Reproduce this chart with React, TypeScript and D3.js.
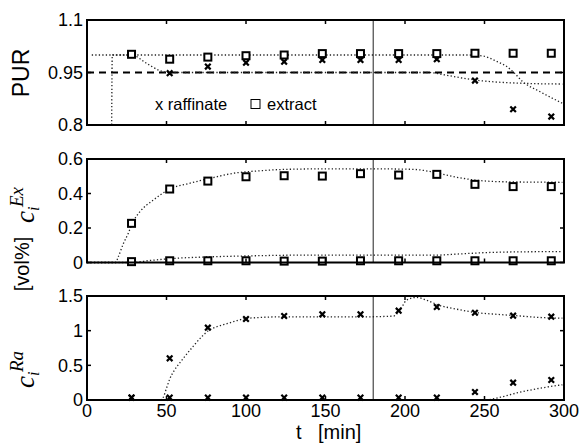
import React from "react";
import * as d3 from "d3";

// sample times (min)
const sampleT = [28, 52, 76, 100, 124, 148, 172, 196, 220, 244, 268, 292];

// PUR panel
const purExtract = [1.002, 0.988, 0.994, 0.998, 1.0, 1.004, 1.004, 1.004, 1.004, 1.005, 1.005, 1.005];
const purRaffinateT = [52, 76, 100, 124, 148, 172, 196, 220, 244, 268, 292];
const purRaffinate = [0.948, 0.967, 0.978, 0.981, 0.986, 0.986, 0.986, 0.988, 0.927, 0.845, 0.824];
const purExtractModelT = [3, 100, 200, 240, 249, 258, 264, 268, 274, 285, 299];
const purExtractModel = [1.0, 1.0, 1.0, 1.0, 0.997, 0.981, 0.967, 0.952, 0.924, 0.895, 0.862];
const purRaffModelT = [15.5, 15.9, 28, 37.5, 45, 52, 70, 150, 215, 225, 235, 245, 260, 275, 299];
const purRaffModel = [0.79, 1.0, 1.0, 0.976, 0.957, 0.95, 0.95, 0.95, 0.95, 0.943, 0.935, 0.928, 0.922, 0.919, 0.917];
const purSpec = 0.95;

// c^Ex panel
const exUpper = [0.227, 0.426, 0.472, 0.497, 0.503, 0.501, 0.515, 0.507, 0.511, 0.453, 0.44, 0.44];
const exLower = [0.005, 0.01, 0.01, 0.01, 0.008, 0.008, 0.01, 0.01, 0.01, 0.01, 0.01, 0.01];
const exUpperModelT = [0, 18, 19.7, 22.9, 26, 28.5, 33.3, 37.5, 41.7, 45.9, 53, 62.7, 71, 81.6, 92, 109, 125.6, 150, 180, 205, 213, 221, 232, 244, 255, 270, 299];
const exUpperModel = [0, 0, 0.034, 0.11, 0.17, 0.227, 0.295, 0.333, 0.362, 0.391, 0.43, 0.455, 0.474, 0.497, 0.517, 0.532, 0.54, 0.543, 0.543, 0.54, 0.532, 0.517, 0.495, 0.478, 0.47, 0.467, 0.465];
const exLowerModelT = [0, 28, 40, 55, 75, 100, 140, 220, 235, 250, 275, 299];
const exLowerModel = [0, 0, 0.012, 0.024, 0.032, 0.038, 0.043, 0.043, 0.05, 0.057, 0.062, 0.063];

// c^Ra panel
const raUpper = [0.034, 0.601, 1.043, 1.168, 1.212, 1.236, 1.236, 1.288, 1.341, 1.259, 1.216, 1.202];
const raLower = [0.034, 0.034, 0.034, 0.034, 0.034, 0.034, 0.034, 0.034, 0.034, 0.115, 0.25, 0.288];
const raUpperModelT = [0, 46, 48, 50, 52, 55, 58.5, 63, 67, 72, 77, 82, 88, 95, 101.5, 125, 150, 175, 192.7, 196.9, 201, 207.4, 213.6, 221, 232.5, 245, 257.7, 270, 285, 299];
const raUpperModel = [0, 0, 0.04, 0.17, 0.3, 0.43, 0.54, 0.67, 0.78, 0.91, 1.01, 1.06, 1.1, 1.15, 1.18, 1.2, 1.2, 1.2, 1.21, 1.298, 1.44, 1.48, 1.44, 1.37, 1.31, 1.26, 1.236, 1.216, 1.19, 1.18];
const raLowerModelT = [0, 250, 260, 270, 285, 299];
const raLowerModel = [0, 0, 0.04, 0.1, 0.17, 0.22];

const switchT = 180;
const xTicks = [0, 50, 100, 150, 200, 250, 300];
const purTicks = [0.8, 0.95, 1.1];
const purTickLabels = ["0.8", "0.95", "1.1"];
const exTicks = [0, 0.2, 0.4, 0.6];
const exTickLabels = ["0", "0.2", "0.4", "0.6"];
const raTicks = [0, 0.5, 1, 1.5];
const raTickLabels = ["0", "0.5", "1", "1.5"];

const FONT = "'Liberation Sans', Arial, Helvetica, sans-serif";
const SERIF = "'Liberation Serif', 'DejaVu Serif', serif";

const X0 = 87;
const X1 = 564;
const x = d3.scaleLinear().domain([0, 300]).range([X0, X1]);

function Cross({ cx, cy }: { cx: number; cy: number }) {
  const s = 2.8;
  return (
    <path
      d={`M${cx - s},${cy - s}L${cx + s},${cy + s}M${cx - s},${cy + s}L${cx + s},${cy - s}`}
      stroke="#000"
      strokeWidth={2.2}
    />
  );
}

function Square({ cx, cy }: { cx: number; cy: number }) {
  return <rect x={cx - 3.5} y={cy - 3.5} width={7} height={7} fill="#fff" stroke="#000" strokeWidth={2} />;
}

function Panel({
  y,
  ticks,
  tickLabels,
  showXLabels,
  children,
}: {
  y: d3.ScaleLinear<number, number>;
  ticks: number[];
  tickLabels: string[];
  showXLabels: boolean;
  children?: React.ReactNode;
}) {
  const [yb, yt] = y.range();
  const tl = 4;
  return (
    <g>
      <line x1={x(switchT)} x2={x(switchT)} y1={yt} y2={yb} stroke="#222" strokeWidth={1} />
      {children}
      {xTicks.map((t) => (
        <g key={"xt" + t}>
          <line x1={x(t)} x2={x(t)} y1={yb} y2={yb - tl} stroke="#000" strokeWidth={1.5} />
          <line x1={x(t)} x2={x(t)} y1={yt} y2={yt + tl} stroke="#000" strokeWidth={1.5} />
          {showXLabels && (
            <text x={x(t)} y={yb + 17} textAnchor="middle" fontFamily={FONT} fontSize={18}>
              {t}
            </text>
          )}
        </g>
      ))}
      {ticks.map((v, i) => (
        <g key={"yt" + v}>
          <line x1={X0} x2={X0 + tl} y1={y(v)} y2={y(v)} stroke="#000" strokeWidth={1.5} />
          <line x1={X1} x2={X1 - tl} y1={y(v)} y2={y(v)} stroke="#000" strokeWidth={1.5} />
          <text x={X0 - 4} y={y(v)} dy="0.36em" textAnchor="end" fontFamily={FONT} fontSize={18}>
            {tickLabels[i]}
          </text>
        </g>
      ))}
      <rect x={X0} y={yt} width={X1 - X0} height={yb - yt} fill="none" stroke="#000" strokeWidth={2} />
    </g>
  );
}

function dotted(ts: number[], vs: number[], y: d3.ScaleLinear<number, number>) {
  const line = d3
    .line<number>()
    .x((_, i) => x(ts[i]))
    .y((v) => y(v))
    .curve(d3.curveMonotoneX);
  return (
    <path d={line(vs) || ""} fill="none" stroke="#222" strokeWidth={1.3} strokeDasharray="1.3,2.2" />
  );
}

export default function App() {
  const yPur = d3.scaleLinear().domain([0.8, 1.1]).range([125, 20]);
  const yEx = d3.scaleLinear().domain([0, 0.6]).range([262.5, 159]);
  const yRa = d3.scaleLinear().domain([0, 1.5]).range([400, 296]);

  return (
    <svg
      width={582}
      height={448}
      style={{ position: "absolute", left: 0, top: 0, background: "#fff" }}
    >
      <rect x={0} y={0} width={582} height={448} fill="#fff" />
      <defs>
        <clipPath id="clipPur">
          <rect x={X0} y={20} width={X1 - X0} height={105} />
        </clipPath>
      </defs>

      {/* PUR panel */}
      <Panel y={yPur} ticks={purTicks} tickLabels={purTickLabels} showXLabels={false}>
        <line
          x1={X0}
          x2={X1}
          y1={yPur(purSpec)}
          y2={yPur(purSpec)}
          stroke="#000"
          strokeWidth={2}
          strokeDasharray="7,5"
        />
        <g clipPath="url(#clipPur)">
          {dotted(purExtractModelT, purExtractModel, yPur)}
          {dotted(purRaffModelT, purRaffModel, yPur)}
        </g>
        {purRaffinate.map((v, i) => (
          <Cross key={"pr" + i} cx={x(purRaffinateT[i])} cy={yPur(v)} />
        ))}
        {purExtract.map((v, i) => (
          <Square key={"pe" + i} cx={x(sampleT[i])} cy={yPur(v)} />
        ))}
        <text x={155} y={110} fontFamily={FONT} fontSize={16.5}>
          x raffinate
        </text>
        <rect x={251} y={99.5} width={9} height={9} fill="none" stroke="#000" strokeWidth={1} />
        <text x={267} y={110} fontFamily={FONT} fontSize={16.5}>
          extract
        </text>
      </Panel>

      {/* c^Ex panel */}
      <Panel y={yEx} ticks={exTicks} tickLabels={exTickLabels} showXLabels={false}>
        {dotted(exUpperModelT, exUpperModel, yEx)}
        {dotted(exLowerModelT, exLowerModel, yEx)}
        {exUpper.map((v, i) => (
          <Square key={"eu" + i} cx={x(sampleT[i])} cy={yEx(v)} />
        ))}
        {exLower.map((v, i) => (
          <Square key={"el" + i} cx={x(sampleT[i])} cy={yEx(v)} />
        ))}
      </Panel>

      {/* c^Ra panel */}
      <Panel y={yRa} ticks={raTicks} tickLabels={raTickLabels} showXLabels={true}>
        {dotted(raUpperModelT, raUpperModel, yRa)}
        {dotted(raLowerModelT, raLowerModel, yRa)}
        {raUpper.map((v, i) => (
          <Cross key={"ru" + i} cx={x(sampleT[i])} cy={yRa(v)} />
        ))}
        {raLower.map((v, i) => (
          <Cross key={"rl" + i} cx={x(sampleT[i])} cy={yRa(v)} />
        ))}
      </Panel>

      {/* axis labels */}
      <text
        transform="translate(29,73) rotate(-90)"
        textAnchor="middle"
        fontFamily={FONT}
        fontSize={23}
      >
        PUR
      </text>
      <text
        transform="translate(29,264) rotate(-90)"
        textAnchor="middle"
        fontFamily={FONT}
        fontSize={20}
      >
        [vol%]
      </text>
      <g transform="translate(34,223) rotate(-90)">
        <text x={0} y={0} fontFamily={SERIF} fontStyle="italic" fontSize={27}>
          c
        </text>
        <text x={12} y={5} fontFamily={SERIF} fontStyle="italic" fontSize={16}>
          i
        </text>
        <text x={16} y={-11} fontFamily={SERIF} fontStyle="italic" fontSize={19}>
          Ex
        </text>
      </g>
      <g transform="translate(34,388) rotate(-90)">
        <text x={0} y={0} fontFamily={SERIF} fontStyle="italic" fontSize={27}>
          c
        </text>
        <text x={12} y={5} fontFamily={SERIF} fontStyle="italic" fontSize={16}>
          i
        </text>
        <text x={16} y={-11} fontFamily={SERIF} fontStyle="italic" fontSize={19}>
          Ra
        </text>
      </g>
      <text x={296} y={439} fontFamily={FONT} fontSize={20}>
        t
      </text>
      <text x={318} y={439} fontFamily={FONT} fontSize={20}>
        [min]
      </text>
    </svg>
  );
}
